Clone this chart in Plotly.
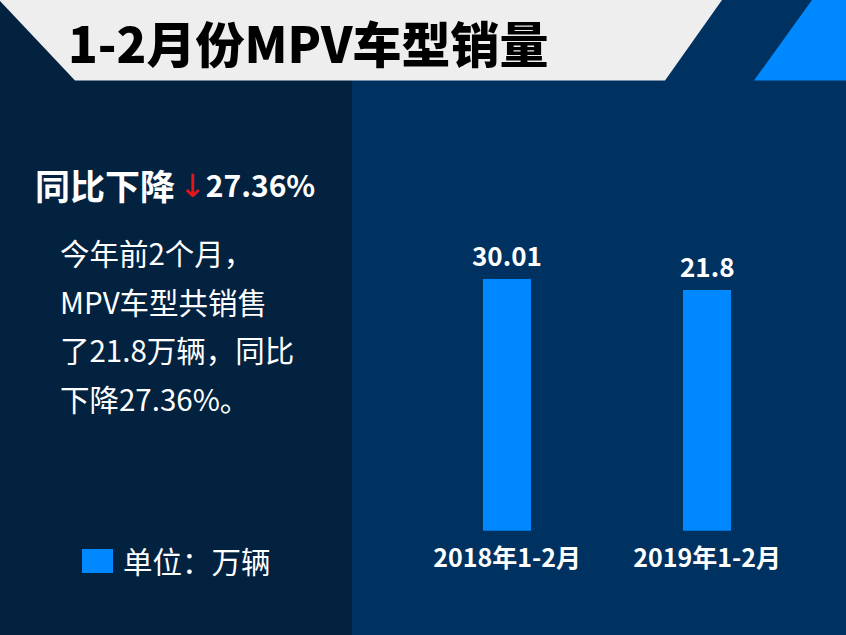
import numpy as np
import plotly.graph_objects as go

# ---- data ----
categories = ["2018年1-2月", "2019年1-2月"]
sales = [30.01, 21.8]          # 万辆
bar_labels = ["30.01", "21.8"]
title_text = "1-2月份MPV车型销量"
headline = "同比下降"
change_text = "27.36%"
paragraph_lines = ["今年前2个月，", "MPV车型共销售", "了21.8万辆，同比", "下降27.36%。"]
unit_text = "单位：万辆"

# ---- style ----
W, H = 846, 635
FONT = "Noto Sans CJK SC"
LEFT_BG = "#03223F"
RIGHT_BG = "#003261"
HEADER_GREY = "#EEEEEE"
BAR_BLUE = "#0088FF"

def px(x):
    return x / W

def py(y):
    return 1 - y / H

fig = go.Figure()
fig.add_trace(go.Bar(
    x=categories, y=sales, marker=dict(color=BAR_BLUE, line=dict(width=0)),
    width=0.24, showlegend=False, hoverinfo="skip",
))

shapes = [
    dict(type="rect", xref="paper", yref="paper", x0=0, x1=px(352), y0=0, y1=1,
         fillcolor=LEFT_BG, line=dict(width=0), layer="below"),
    dict(type="rect", xref="paper", yref="paper", x0=px(352), x1=1, y0=0, y1=1,
         fillcolor=RIGHT_BG, line=dict(width=0), layer="below"),
]

def poly(points, color):
    path = "M " + " L ".join(f"{px(x)},{py(y)}" for x, y in points) + " Z"
    return dict(type="path", xref="paper", yref="paper", path=path,
                fillcolor=color, line=dict(width=0), layer="below")

shapes.append(poly([(0, 0), (722, 0), (665, 80.5), (75, 80.5), (0, 1)], HEADER_GREY))
shapes.append(poly([(812, 0), (846, 0), (846, 80.5), (754, 80.5)], BAR_BLUE))
# legend square
shapes.append(dict(type="rect", xref="paper", yref="paper", x0=px(82), x1=px(113),
                   y0=py(573), y1=py(549), fillcolor=BAR_BLUE, line=dict(width=0)))

ann = []
ann.append(dict(text=title_text, x=px(66), y=py(41), xref="paper", yref="paper",
                xanchor="left", yanchor="middle", showarrow=False,
                font=dict(family=FONT, size=49, color="#000000", weight=900)))
ann.append(dict(text=headline, x=px(33), y=py(184), xref="paper", yref="paper",
                xanchor="left", yanchor="middle", showarrow=False,
                font=dict(family=FONT, size=35, color="#FFFFFF", weight=700)))
arrow_html = ("<span style='color:#E8141B;font-family:DejaVu Sans;font-weight:400;"
              "font-size:32px'>↓</span>")
ann.append(dict(text=arrow_html + change_text, x=px(177), y=py(184), xref="paper", yref="paper",
                xanchor="left", yanchor="middle", showarrow=False,
                font=dict(family=FONT, size=30, color="#FFFFFF", weight=700)))
for i, line in enumerate(paragraph_lines):
    ann.append(dict(text=line, x=px(58), y=py(252 + i * 48.5), xref="paper", yref="paper",
                    xanchor="left", yanchor="middle", showarrow=False,
                    font=dict(family=FONT, size=29.5, color="#FFFFFF")))
ann.append(dict(text=unit_text, x=px(121), y=py(560), xref="paper", yref="paper",
                xanchor="left", yanchor="middle", showarrow=False,
                font=dict(family=FONT, size=29.5, color="#FFFFFF")))
for c, v, lab in zip(categories, sales, bar_labels):
    ann.append(dict(text=lab, x=c, y=np.log10(v), xref="x", yref="y",
                    xanchor="center", yanchor="bottom", yshift=4, showarrow=False,
                    font=dict(family=FONT, size=26, color="#FFFFFF", weight=700)))

base_px = 530.7
fig.update_layout(
    width=W, height=H, margin=dict(l=0, r=0, t=0, b=0),
    paper_bgcolor=LEFT_BG, plot_bgcolor="rgba(0,0,0,0)",
    shapes=shapes, annotations=ann, bargap=0,
    xaxis=dict(domain=[px(352), 1], range=[-0.775, 1.695], showgrid=False,
               zeroline=False, showline=False, ticks="",
               tickfont=dict(family=FONT, size=25, color="#FFFFFF", weight=700),
               ticklabelstandoff=10, fixedrange=True),
    yaxis=dict(type="log", domain=[py(base_px), 1], range=[-1.699, 4.997],
               showgrid=False, zeroline=False, showline=False,
               showticklabels=False, ticks="", fixedrange=True),
)

fig.write_html("out.html", config={"displayModeBar": False},
               post_script="document.body.style.margin='0';document.body.style.overflow='hidden';")
